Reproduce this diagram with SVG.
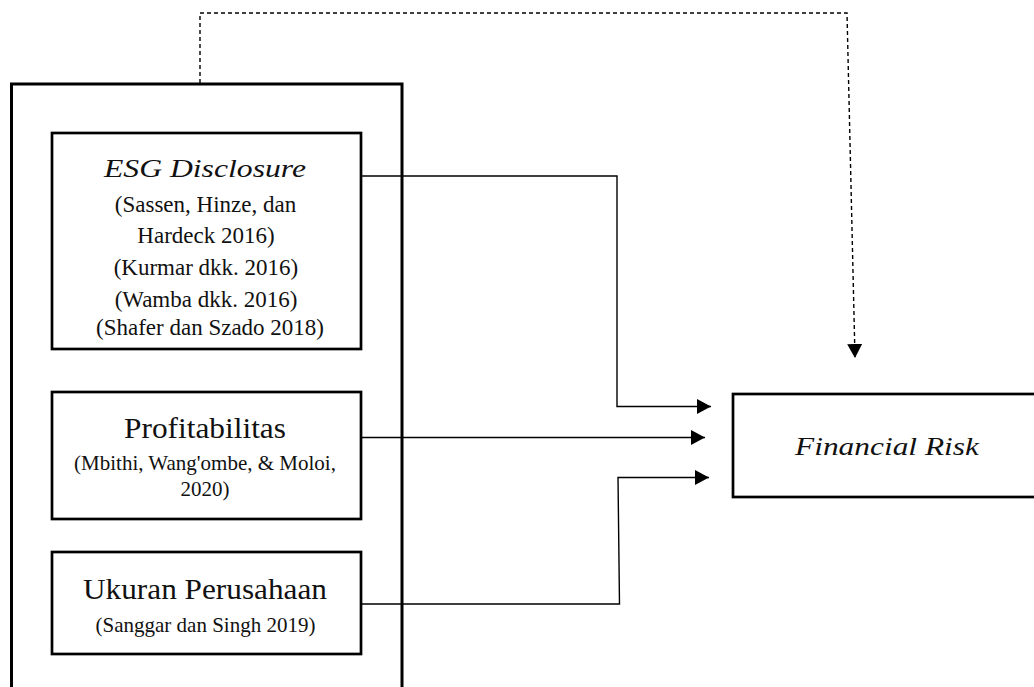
<svg xmlns="http://www.w3.org/2000/svg" width="1034" height="687" viewBox="0 0 1034 687">
<style>
.box{fill:#fff;stroke:#000;stroke-width:2.7}
.outer{fill:none;stroke:#000;stroke-width:3}
.conn{fill:none;stroke:#000;stroke-width:1.4}
.dash{fill:none;stroke:#000;stroke-width:1.4;stroke-dasharray:4 3}
.t{font-family:"Liberation Serif","Times New Roman",serif;fill:#111;text-anchor:middle}
.it{font-family:"Liberation Serif","Times New Roman",serif;font-style:italic;fill:#111;text-anchor:middle}
</style>
<defs>
<marker id="ah" viewBox="0 0 14 15" refX="14" refY="7.5" markerWidth="14" markerHeight="15" markerUnits="userSpaceOnUse" orient="auto">
<path d="M0,0 L14,7.5 L0,15 Z" fill="#000"/>
</marker>
</defs>
<rect width="1034" height="687" fill="#fff"/>
<g id="outer-group">
<path class="outer" d="M11.5,700 V84 H402 V700"/>
</g>
<g id="connectors">
<path class="dash" d="M200,83 V13 H847 L855,358" marker-end="url(#ah)"/>
<path class="conn" d="M361,176 H617 V406.5 H711" marker-end="url(#ah)"/>
<path class="conn" d="M361,437.5 H705" marker-end="url(#ah)"/>
<path class="conn" d="M361,604 H619.5 L618,477.5 H709" marker-end="url(#ah)"/>
</g>
<g id="esg">
<rect class="box" x="52" y="133" width="309" height="216"/>
<text class="it" x="205" y="177" font-size="26" textLength="202" lengthAdjust="spacingAndGlyphs">ESG Disclosure</text>
<text class="t" x="205.5" y="212" font-size="23">(Sassen, Hinze, dan</text>
<text class="t" x="206" y="243" font-size="23">Hardeck 2016)</text>
<text class="t" x="206" y="275" font-size="23">(Kurmar dkk. 2016)</text>
<text class="t" x="206" y="306.5" font-size="23">(Wamba dkk. 2016)</text>
<text class="t" x="210" y="335" font-size="23">(Shafer dan Szado 2018)</text>
</g>
<g id="profitabilitas">
<rect class="box" x="52" y="392" width="309" height="127"/>
<text class="t" x="205" y="438" font-size="30" textLength="162" lengthAdjust="spacingAndGlyphs">Profitabilitas</text>
<text class="t" x="205" y="470" font-size="21">(Mbithi, Wang'ombe, &amp; Moloi,</text>
<text class="t" x="205" y="496" font-size="21">2020)</text>
</g>
<g id="ukuran">
<rect class="box" x="52" y="552" width="309" height="102"/>
<text class="t" x="205" y="599" font-size="30" textLength="244" lengthAdjust="spacingAndGlyphs">Ukuran Perusahaan</text>
<text class="t" x="205.5" y="632" font-size="21">(Sanggar dan Singh 2019)</text>
</g>
<g id="financial-risk">
<rect class="box" x="733" y="394" width="320" height="103"/>
<text class="it" x="887" y="455" font-size="26" textLength="184" lengthAdjust="spacingAndGlyphs">Financial Risk</text>
</g>
</svg>
